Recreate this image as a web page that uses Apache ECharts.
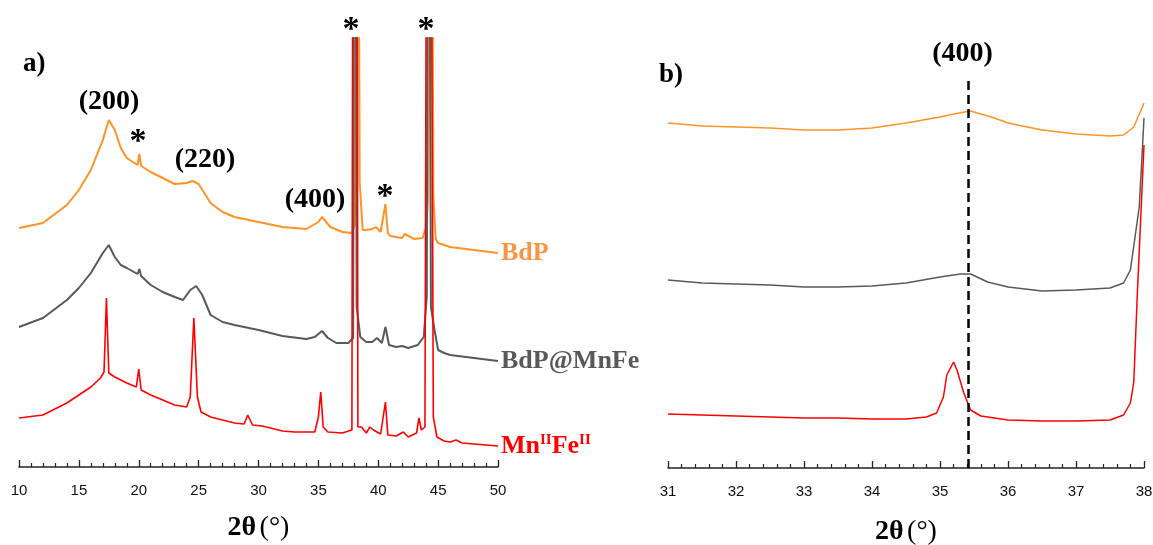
<!DOCTYPE html>
<html><head><meta charset="utf-8">
<script src="https://cdn.jsdelivr.net/npm/echarts@6/dist/echarts.min.js"></script>
<style>html,body{margin:0;padding:0;background:#fff}#c{width:1153px;height:545px}</style>
</head><body><div id="c"></div><script>
// ---- panel a) intensities (a.u., stacked) ----
const leftBdP = [[10,239],[12,244],[14,262],[15,277],[16,297],[17,327],[17.5,347],[18,337],[18.5,319],[19,309],[19.9,302],[20.05,313],[20.2,301],[21,295],[22,289],[23,283],[24,284],[24.5,286],[25,283],[26,264],[27,255],[28,250],[30,245],[32,240],[34,238],[35,245],[35.3,250],[36,240],[37,235],[37.8,234],[38.05,242],[38.3,800],[38.45,285],[38.7,237],[39,237],[39.5,238],[39.8,240],[40.2,235],[40.6,263],[40.8,234],[41,231],[42,229],[42.2,233],[43,228],[43.7,229],[44.0,240],[44.15,265],[44.45,800],[44.6,270],[44.8,228],[45,224],[46,220],[48,217],[50,214]];
const leftMix = [[10,140],[12,149],[14,167],[15,179],[16,194],[17,214],[17.5,222],[18,210],[18.5,202],[19,199],[19.9,193],[20.05,198],[20.2,191],[21,182],[22,175],[23,170],[23.7,167],[24.3,177],[24.8,181],[25.3,172],[26,152],[27,145],[28,142],[30,137],[32,131],[34,128],[34.7,130],[35.3,136],[35.8,129],[36.5,124],[37.5,124],[37.9,129],[38.06,900],[38.2,160],[38.4,140],[38.5,130],[39,125],[39.5,125],[39.9,129],[40.3,124],[40.6,140],[40.9,122],[41.5,120],[42,121],[42.5,119],[43.3,122],[43.8,130],[44.05,170],[44.2,900],[44.4,160],[44.7,137],[45,117],[45.5,114],[46,112],[48,109],[50,106]];
const leftMnFe = [[10,49],[12,52],[14,64],[15,72],[16,80],[16.8,89],[17.1,95],[17.3,169],[17.5,94],[18,90],[19,84],[19.8,80],[20,98],[20.2,77],[21,72],[22,67],[23,62],[24,60],[24.3,70],[24.6,149],[24.9,70],[25.2,55],[26,50],[27,47],[28,44],[28.8,43],[29.1,52],[29.5,42],[30.3,41],[31,39],[32,36],[33,35],[34,35],[34.7,35],[35.0,50],[35.2,75],[35.4,40],[35.8,35],[37,34],[37.8,37],[37.92,900],[38.2,900],[38.3,40],[38.6,40],[39,34],[39.3,40],[39.6,37],[40.2,33],[40.6,65],[40.8,32],[41.5,31],[42.1,35],[42.5,30],[43.2,34],[43.4,49],[43.6,37],[43.9,40],[44.1,900],[44.32,900],[44.6,50],[44.9,30],[45.5,26],[46,25],[46.5,27],[47,24],[48,23],[50,21]];
// ---- panel b) zoom 31-38 deg ----
const rightBdP = [[31,345],[31.5,342],[32,341],[32.5,340],[33,338],[33.5,338],[34,340],[34.5,345],[35,351],[35.2,354],[35.45,357],[35.8,350],[36,345],[36.5,338],[37,334],[37.5,332],[37.7,333],[37.85,341],[38,365]];
const rightMix = [[31,188],[31.5,185],[32,184],[32.5,183],[33,181],[33.5,181],[34,182],[34.5,185],[35,191],[35.3,194],[35.45,194],[35.7,186],[36,181],[36.5,177],[37,178],[37.5,180],[37.7,185],[37.8,198],[37.93,261],[37.97,311],[38,350]];
const rightMnFe = [[31,54],[31.5,53],[32,52],[32.5,51],[33,50],[33.5,50],[34,49],[34.5,49],[34.8,51],[34.95,55],[35.05,71],[35.1,93],[35.2,106],[35.25,98],[35.35,75],[35.45,58],[35.6,52],[36,48],[36.5,47],[37,47],[37.5,48],[37.7,53],[37.8,65],[37.85,86],[37.9,171],[38,323]];
// annotations
const leftNotes = [{name:'(200)',coord:[17.52,365]},{name:'(220)',coord:[25.53,307]},{name:'(400)',coord:[34.72,267]}];
const leftStars = [{name:'*',coord:[19.94,325]},{name:'*',coord:[40.56,270]}];
const topStars = [{name:'*',coord:[37.72,429]},{name:'*',coord:[43.99,429]}];
const refLine400 = 35.42;
const leftTicks = {min:10,max:50,interval:5};
const rightTicks = {min:31,max:38,interval:1};

const serif = "'Times New Roman','Liberation Serif',serif";
const sans = "Arial,'Liberation Sans',sans-serif";
const cOr = '#FF9326', cGr = '#595959', cRd = '#FF0000';

function xAx(idx, t, gap){
  return {gridIndex:idx, type:'value', min:t.min, max:t.max, interval:t.interval,
    axisLine:{show:true,onZero:false,lineStyle:{color:'#222',width:1.5}},
    axisTick:{show:true,inside:true,length:7,lineStyle:{color:'#222',width:1.3}},
    minorTick:{show:true,splitNumber:5,length:4,lineStyle:{color:'#222',width:1.2}},
    splitLine:{show:false}, minorSplitLine:{show:false},
    axisLabel:{color:'#111',fontSize:15,fontFamily:sans,margin:16,showMinLabel:true,showMaxLabel:true},
    name:'{b|2θ} {r|(°)}', nameLocation:'middle', nameGap:gap,
    nameTextStyle:{rich:{b:{fontFamily:serif,fontWeight:'bold',fontSize:28,color:'#000'},r:{fontFamily:serif,fontSize:28,color:'#000'}}}
  };
}
function yAx(idx,max){return {gridIndex:idx,type:'value',min:0,max:max,show:false,splitLine:{show:false}};}
function line(name,data,color,w,xi,extra){
  return Object.assign({name:name,type:'line',xAxisIndex:xi,yAxisIndex:xi,data:data,showSymbol:false,symbol:'none',
    lineStyle:{color:color,width:w},itemStyle:{color:color},clip:true,silent:true,animation:false},extra||{});
}
const endLab = (fmt,color,rich)=>({show:true,formatter:fmt,distance:3,color:color,fontFamily:serif,fontWeight:'bold',fontSize:26,rich:rich});
const noteLabel = (size,off)=>({show:true,position:'inside',formatter:'{b}',fontFamily:serif,fontWeight:'bold',fontSize:size,color:'#000',opacity:1,offset:off||[0,0]});
const mp = (data,size,off)=>({silent:true,animation:false,symbol:'circle',symbolSize:0,itemStyle:{color:'#000'},label:noteLabel(size,off),data:data});

const option = {
  backgroundColor:'#fff', animation:false,
  title:[
    {text:'a)',left:18,top:46,textStyle:{fontFamily:serif,fontWeight:'bold',fontSize:27,color:'#000'}},
    {text:'b)',left:654,top:57,textStyle:{fontFamily:serif,fontWeight:'bold',fontSize:27,color:'#000'}}
  ],
  grid:[
    {left:19,right:655,top:38,bottom:78,outerBoundsMode:'none',containLabel:false},
    {left:668,right:9,top:80,bottom:77,outerBoundsMode:'none',containLabel:false}
  ],
  xAxis:[xAx(0,leftTicks,47), xAx(1,rightTicks,50)],
  yAxis:[yAx(0,429), yAx(1,388)],
  series:[
    line('BdP',leftBdP,cOr,2,0,{endLabel:endLab('BdP','#F79646'),markPoint:mp(leftNotes,28)}),
    line('BdP@MnFe',leftMix,cGr,2,0,{endLabel:endLab('BdP@MnFe',cGr),markPoint:mp(leftStars,34)}),
    line('MnIIFeII',leftMnFe,cRd,1.6,0,{endLabel:endLab('{n|Mn}{s|II}{n|Fe}{s|II}',cRd,{
      n:{fontFamily:serif,fontWeight:'bold',fontSize:26,color:cRd,lineHeight:26},
      s:{fontFamily:serif,fontWeight:'bold',fontSize:15,color:cRd,verticalAlign:'top',lineHeight:15}}),
      markPoint:mp(topStars,34,[0,-8])}),
    line('BdP b',rightBdP,cOr,1.5,1),
    line('BdP@MnFe b',rightMix,cGr,1.5,1),
    line('MnIIFeII b',rightMnFe,cRd,1.5,1,{
      markLine:{silent:true,symbol:'none',animation:false,
        lineStyle:{color:'#000',width:2.5,type:[9,5]},
        label:{show:true,position:'end',formatter:'(400)',distance:12,offset:[-6,0],fontFamily:serif,fontWeight:'bold',fontSize:28,color:'#000'},
        data:[{xAxis:refLine400}]}})
  ]
};
const chart = echarts.init(document.getElementById('c'),null,{renderer:'canvas'});
chart.setOption(option);
</script></body></html>
